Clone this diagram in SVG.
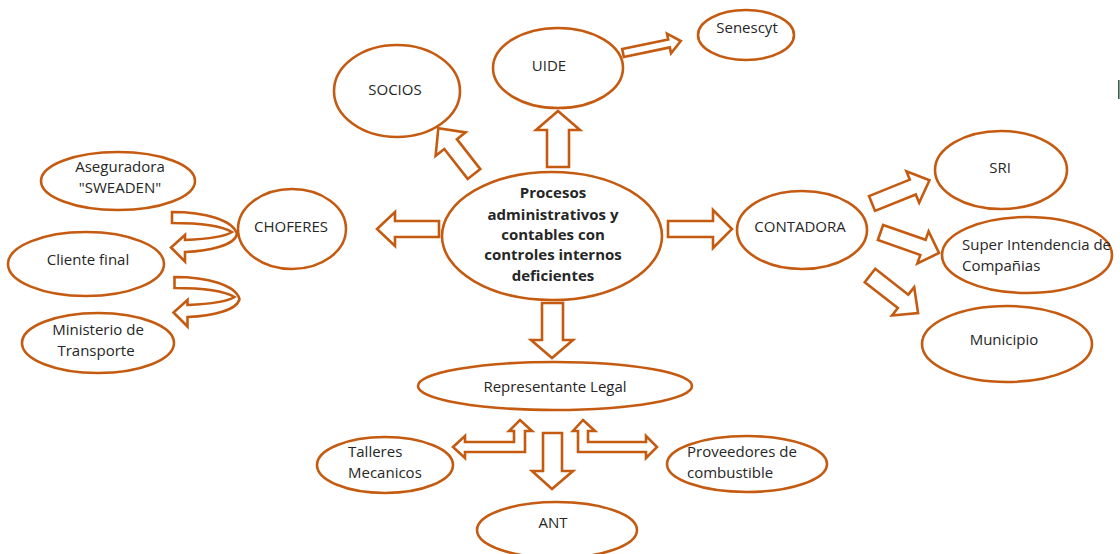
<svg xmlns="http://www.w3.org/2000/svg" width="1120" height="554" viewBox="0 0 1120 554">
<style>
.n{fill:#fff;stroke:#C55A11;stroke-width:2.6}
.a{fill:#fff;stroke:#C55A11;stroke-width:2.6;stroke-linejoin:miter}
text{font-family:"Open Sans","Liberation Sans",sans-serif;font-size:15px;fill:#262626}
.c{text-anchor:middle}
.b{font-weight:bold}
</style>
<rect width="1120" height="554" fill="#fff"/>
<g id="connectors">
<polygon class="a" points="547,167 547,130 536,130 558,111 580,130 569,130 569,167"/>
<path class="a" transform="translate(474,174) rotate(-128)" d="M0,-8 L38,-8 L38,-19 L58,0 L38,19 L38,8 L0,8 Z"/>
<polygon class="a" points="439,221 395,221 395,212 377,229 395,246 395,237 439,237"/>
<polygon class="a" points="668,221 713,221 713,210 732,229 713,248 713,237 668,237"/>
<polygon class="a" points="542,303 563,303 563,340 573,340 552,358 531,340 542,340"/>
<polygon class="a" points="543,433 562,433 562,471 573,471 552,489 532,471 543,471"/>
<polygon class="a" points="453,447 465,436 465,442 514,442 514,431 509,431 520,420 532,431 525,431 525,452 465,452 465,458"/>
<polygon class="a" points="583,420 595,431 588,431 588,442 646,442 646,436 657,447 646,458 646,452 578,452 578,431 573,431"/>
<path class="a" transform="translate(623,53) rotate(-11.7)" d="M0,-4 L47,-4 L47,-10 L59,0 L47,10 L47,4 L0,4 Z"/>
<path class="a" transform="translate(872,203.5) rotate(-22)" d="M0,-8 L44,-8 L44,-17 L62,0 L44,17 L44,8 L0,8 Z"/>
<path class="a" transform="translate(880.5,232.5) rotate(19.3)" d="M0,-8 L45,-8 L45,-17 L62,0 L45,17 L45,8 L0,8 Z"/>
<path class="a" transform="translate(870,275.5) rotate(38)" d="M0,-8.5 L42,-8.5 L42,-18 L61,0 L42,18 L42,8.5 L0,8.5 Z"/>
<path id="curva1" class="a" d="M172,212 C205,212 233,220 237,234 C235,245 210,251 185,252 L185,261.5 L171,247.5 L185,235 L185,240 C208,239 226,236 232,232 C222,226 200,223 172,223 Z"/>
<use href="#curva1" transform="translate(2.5,65)"/>
</g>
<g id="centro">
<ellipse class="n" cx="552" cy="236" rx="110" ry="64"/>
<text class="c b" x="553" y="198">Procesos</text>
<text class="c b" x="553" y="220">administrativos y</text>
<text class="c b" x="553" y="240">contables con</text>
<text class="c b" x="553" y="260">controles internos</text>
<text class="c b" x="553" y="281">deficientes</text>
</g>
<g id="socios"><ellipse class="n" cx="397" cy="91" rx="63" ry="46"/><text class="c" x="395" y="95">SOCIOS</text></g>
<g id="uide"><ellipse class="n" cx="558" cy="68" rx="65" ry="40"/><text class="c" x="549" y="71">UIDE</text></g>
<g id="senescyt"><ellipse class="n" cx="746" cy="35" rx="48" ry="25"/><text class="c" x="747" y="33">Senescyt</text></g>
<g id="sri"><ellipse class="n" cx="1001" cy="170" rx="66" ry="39"/><text class="c" x="1000" y="173">SRI</text></g>
<g id="superintendencia"><ellipse class="n" cx="1027" cy="255" rx="85" ry="38"/><text x="962" y="250">Super Intendencia de</text><text x="962" y="271">Compañias</text></g>
<g id="municipio"><ellipse class="n" cx="1007" cy="344" rx="85" ry="38"/><text class="c" x="1004" y="345">Municipio</text></g>
<g id="contadora"><ellipse class="n" cx="802" cy="230" rx="65" ry="39"/><text class="c" x="800" y="232">CONTADORA</text></g>
<g id="choferes"><ellipse class="n" cx="292" cy="229" rx="54" ry="40"/><text class="c" x="291" y="232">CHOFERES</text></g>
<g id="aseguradora"><ellipse class="n" cx="118" cy="181" rx="77" ry="29"/><text class="c" x="120" y="172">Aseguradora</text><text class="c" x="120" y="193">"SWEADEN"</text></g>
<g id="cliente"><ellipse class="n" cx="86" cy="264" rx="78" ry="32"/><text class="c" x="88" y="265">Cliente final</text></g>
<g id="ministerio"><ellipse class="n" cx="98" cy="343" rx="76" ry="30"/><text class="c" x="98" y="335">Ministerio de</text><text class="c" x="96" y="356">Transporte</text></g>
<g id="representante"><ellipse class="n" cx="555" cy="386" rx="137" ry="24"/><text class="c" x="555" y="392">Representante Legal</text></g>
<g id="talleres"><ellipse class="n" cx="385" cy="465" rx="68" ry="28"/><text x="348" y="457">Talleres</text><text x="348" y="478">Mecanicos</text></g>
<g id="proveedores"><ellipse class="n" cx="747" cy="464" rx="80" ry="28"/><text x="687" y="457">Proveedores de</text><text x="687" y="478">combustible</text></g>
<g id="ant"><ellipse class="n" cx="557" cy="530" rx="80" ry="28"/><text class="c" x="553" y="528">ANT</text></g>
<rect x="1118" y="80" width="1.6" height="19" fill="#3d5f4c"/>
</svg>
